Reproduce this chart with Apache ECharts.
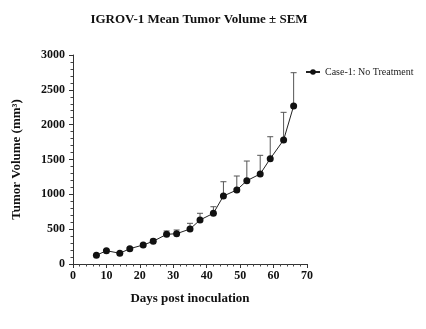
<!DOCTYPE html>
<html>
<head>
<meta charset="utf-8">
<script src="https://cdn.jsdelivr.net/npm/echarts@6/dist/echarts.min.js"></script>
<style>
  html, body { margin: 0; padding: 0; background: #fff; }
  #chart { width: 426px; height: 329px; }
</style>
</head>
<body>
<div id="chart"></div>
<script>
// Study days after inoculation
const days = [7, 10, 14, 17, 21, 24, 28, 31, 35, 38, 42, 45, 49, 52, 56, 59, 63, 66];
// Mean tumor volume (mm³) per measurement day
const meanVolume = [125, 191, 154, 220, 273, 326, 426, 435, 502, 632, 728, 976, 1062, 1196, 1292, 1511, 1780, 2268];
// Standard error of the mean (drawn as upper bars)
const sem = [8, 12, 10, 14, 18, 30, 48, 53, 82, 96, 94, 205, 201, 282, 268, 316, 397, 478];
// Axis ticks
const xTicks = { min: 0, max: 70, interval: 10 };
const yTicks = { min: 0, max: 3000, interval: 500 };

const seriesName = 'Case-1: No Treatment';
const serif = '"Liberation Serif", "Times New Roman", serif';

const lineData = days.map((d, i) => [d, meanVolume[i]]);
const errData = days.map((d, i) => [d, meanVolume[i], meanVolume[i] + sem[i]]);

const chart = echarts.init(document.getElementById('chart'), null, { renderer: 'canvas' });

chart.setOption({
  animation: false,
  backgroundColor: '#fff',
  title: {
    text: 'IGROV-1 Mean Tumor Volume ± SEM',
    left: 194,
    top: 8,
    textAlign: 'center',
    textStyle: { fontFamily: serif, fontWeight: 'bold', fontSize: 13, color: '#111' }
  },
  legend: {
    data: [seriesName],
    left: 300,
    top: 62,
    itemWidth: 14,
    itemHeight: 7,
    itemGap: 5,
    textStyle: { fontFamily: serif, fontSize: 10, color: '#222' }
  },
  grid: { left: 73, right: 119, top: 55, bottom: 65, containLabel: false },
  xAxis: {
    type: 'value',
    min: xTicks.min,
    max: xTicks.max,
    interval: xTicks.interval,
    name: 'Days post inoculation',
    nameLocation: 'middle',
    nameGap: 28,
    nameTextStyle: { fontFamily: serif, fontWeight: 'bold', fontSize: 13, color: '#111' },
    axisLine: { show: true, lineStyle: { color: '#333', width: 1 } },
    axisTick: { show: true, length: 4, lineStyle: { color: '#333' } },
    minorTick: { show: true, splitNumber: 5, length: 2.5, lineStyle: { color: '#444' } },
    splitLine: { show: false },
    axisLabel: { fontFamily: serif, fontWeight: 'bold', fontSize: 12, color: '#111', margin: 6 }
  },
  yAxis: {
    type: 'value',
    min: yTicks.min,
    max: yTicks.max,
    interval: yTicks.interval,
    name: 'Tumor Volume (mm³)',
    nameLocation: 'middle',
    nameGap: 50,
    nameRotate: 90,
    nameTextStyle: { fontFamily: serif, fontWeight: 'bold', fontSize: 13, color: '#111' },
    axisLine: { show: true, lineStyle: { color: '#333', width: 1 } },
    axisTick: { show: true, length: 4, lineStyle: { color: '#333' } },
    minorTick: { show: true, splitNumber: 5, length: 2.5, lineStyle: { color: '#444' } },
    splitLine: { show: false },
    axisLabel: {
      fontFamily: serif, fontWeight: 'bold', fontSize: 12, color: '#111', margin: 8,
      formatter: function (v) { return String(v); }
    }
  },
  series: [
    {
      // upper SEM whiskers
      type: 'custom',
      name: 'sem',
      z: 1,
      data: errData,
      encode: { x: 0, y: [1, 2] },
      renderItem: function (params, api) {
        const x = api.value(0);
        const base = api.coord([x, api.value(1)]);
        const top = api.coord([x, api.value(2)]);
        const cap = 3;
        const style = { stroke: '#555', lineWidth: 1, fill: null };
        return {
          type: 'group',
          children: [
            { type: 'line', shape: { x1: base[0], y1: base[1], x2: top[0], y2: top[1] }, style: style },
            { type: 'line', shape: { x1: top[0] - cap, y1: top[1], x2: top[0] + cap, y2: top[1] }, style: style }
          ]
        };
      }
    },
    {
      type: 'line',
      name: seriesName,
      z: 3,
      data: lineData,
      symbol: 'circle',
      symbolSize: 7,
      showSymbol: true,
      lineStyle: { color: '#222', width: 1 },
      itemStyle: { color: '#111', borderWidth: 0 }
    }
  ]
});
</script>
</body>
</html>
